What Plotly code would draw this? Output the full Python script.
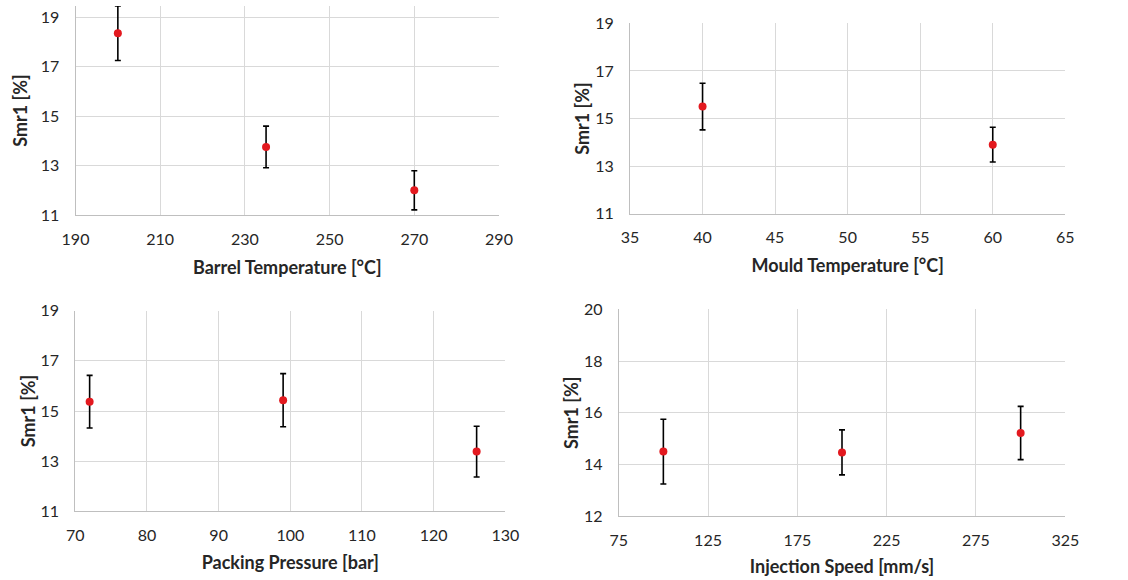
import plotly.graph_objects as go

# ---- data ----
barrel_temp = [200, 235, 270]
barrel_smr = [18.35, 13.76, 12.01]
barrel_err = [1.1, 0.84, 0.79]

mould_temp = [40, 60]
mould_smr = [15.50, 13.90]
mould_err = [0.98, 0.73]

pack_pres = [72, 99, 126]
pack_smr = [15.37, 15.43, 13.38]
pack_err = [1.05, 1.06, 1.01]

inj_speed = [100, 200, 300]
inj_smr = [14.50, 14.47, 15.22]
inj_err = [1.25, 0.87, 1.03]

x_titles = ["Barrel Temperature [°C]", "Mould Temperature [°C]",
            "Packing Pressure [bar]", "Injection Speed [mm/s]"]
y_title = "Smr1 [%]"

W, H = 1128, 580
FONT = "Lato"
GRID = "#d9d9d9"
RED = "#e3191f"

# plot areas in pixels: (left, right, top, bottom)
boxes = [
    (75.5, 499.0, 6.0, 215.3),
    (630.0, 1065.3, 23.3, 213.7),
    (75.3, 505.3, 310.7, 511.3),
    (618.7, 1065.3, 309.3, 516.3),
]
xranges = [[190, 290], [35, 65], [70, 130], [75, 325]]
xdticks = [20, 5, 10, 50]
yranges = [[11, 19.45], [11, 19], [11, 19], [12, 20]]
x_standoff = [14, 14, 13, 12]
y_standoff = [8, 0, 0, 0]

series = [
    (barrel_temp, barrel_smr, barrel_err),
    (mould_temp, mould_smr, mould_err),
    (pack_pres, pack_smr, pack_err),
    (inj_speed, inj_smr, inj_err),
]

fig = go.Figure()
layout = dict(
    width=W, height=H,
    margin=dict(l=0, r=0, t=0, b=0),
    paper_bgcolor="white", plot_bgcolor="white",
    showlegend=False,
    font=dict(family=FONT, size=16, color="#262626"),
)

for i, ((xs, ys, es), (l, r, t, b)) in enumerate(zip(series, boxes)):
    n = "" if i == 0 else str(i + 1)
    fig.add_trace(go.Scatter(
        x=xs, y=ys, mode="markers",
        marker=dict(color=RED, size=8),
        error_y=dict(type="data", array=es, visible=True,
                     color="black", thickness=1.6, width=3),
        xaxis="x" + n, yaxis="y" + n,
    ))
    layout["xaxis" + n] = dict(
        domain=[l / W, r / W], anchor="y" + n, automargin=False,
        range=xranges[i], dtick=xdticks[i], tick0=xranges[i][0],
        showgrid=True, gridcolor=GRID, gridwidth=1,
        showline=True, linecolor="#bfbfbf", linewidth=1,
        zeroline=False,
        ticks="outside", ticklen=9, tickcolor="rgba(0,0,0,0)",
        tickfont=dict(size=16, color="#262626"),
        title=dict(text="<b>" + x_titles[i] + "</b>", standoff=x_standoff[i],
                   font=dict(size=18, color="#262626")),
    )
    layout["yaxis" + n] = dict(
        domain=[1 - b / H, 1 - t / H], anchor="x" + n, automargin=False,
        range=yranges[i], dtick=2, tick0=yranges[i][0],
        showgrid=True, gridcolor=GRID, gridwidth=1,
        showline=True, linecolor="#bfbfbf", linewidth=1,
        zeroline=False,
        ticks="outside", ticklen=12, tickcolor="rgba(0,0,0,0)",
        tickfont=dict(size=16, color="#262626"),
        title=dict(text="<b>" + y_title + "</b>", standoff=y_standoff[i],
                   font=dict(size=18, color="#262626")),
    )
fig.update_layout(**layout)
fig.write_html("out.html")
